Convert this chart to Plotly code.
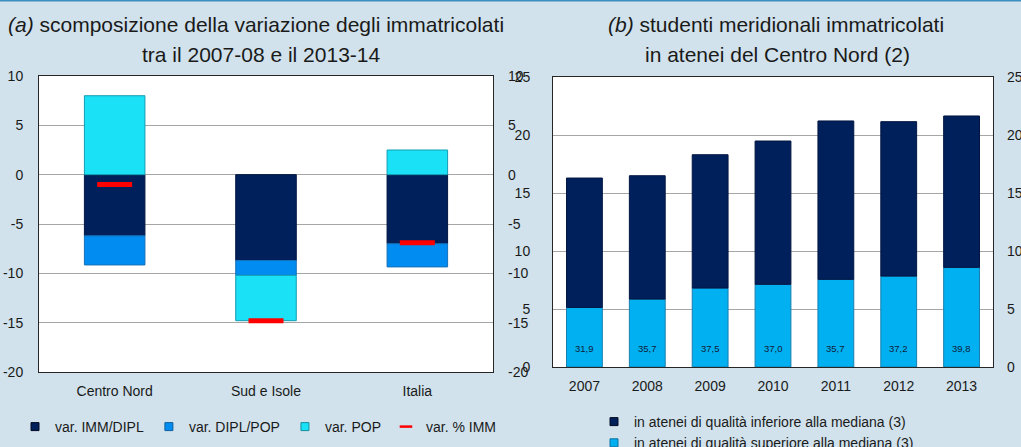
import plotly.graph_objects as go

W, H = 1021, 447

# ---- Panel (a): decomposition of the change in enrolments ----
regions = ["Centro Nord", "Sud e Isole", "Italia"]
imm_dipl = [-6.2, -8.7, -7.0]
dipl_pop = [-2.95, -1.5, -2.35]
pop_var = [8.0, -4.6, 2.5]
var_imm = [-1.0, -14.8, -6.9]

# ---- Panel (b): southern students enrolled in Centre-North universities ----
years = ["2007", "2008", "2009", "2010", "2011", "2012", "2013"]
inferiore = [11.15, 10.63, 11.49, 12.35, 13.65, 13.31, 13.05]
superiore = [5.14, 5.86, 6.81, 7.13, 7.56, 7.84, 8.59]
quota_sup = ["31,9", "35,7", "37,5", "37,0", "35,7", "37,2", "39,8"]

left_ticks = [-20, -15, -10, -5, 0, 5, 10]
right_ticks = [0, 5, 10, 15, 20, 25]
left_tick_text = [str(v) for v in left_ticks]
right_tick_text = [str(v) for v in right_ticks]

NAVY = "#00205B"
BLUE = "#008CF0"
CYAN = "#1AE1F5"
LIGHT = "#00B0F0"
RED = "#FF0000"
BG = "#D1E2EC"
FONT = "Liberation Sans, Arial, sans-serif"


def px_x(p):
    return p / W


def px_y(p):
    return (H - p) / H


fig = go.Figure()

# Panel (a) bars
fig.add_trace(go.Bar(x=regions, y=imm_dipl, width=0.4, xaxis="x", yaxis="y",
                     marker=dict(color=NAVY, line=dict(color="#001540", width=1)),
                     showlegend=False, hoverinfo="skip"))
fig.add_trace(go.Bar(x=regions, y=dipl_pop, width=0.4, xaxis="x", yaxis="y",
                     marker=dict(color=BLUE, line=dict(color="#1670B8", width=1)),
                     showlegend=False, hoverinfo="skip"))
fig.add_trace(go.Bar(x=regions, y=pop_var, width=0.4, xaxis="x", yaxis="y",
                     marker=dict(color=CYAN, line=dict(color="#139DB3", width=1)),
                     showlegend=False, hoverinfo="skip"))
fig.add_trace(go.Scatter(x=regions, y=var_imm, mode="markers", xaxis="x", yaxis="y",
                         marker=dict(symbol="line-ew", size=25, color=RED,
                                     line=dict(color=RED, width=5)),
                         showlegend=False, hoverinfo="skip"))
# invisible trace so the right-hand axis of panel (a) is drawn
fig.add_trace(go.Scatter(x=regions, y=[None] * len(regions), mode="markers",
                         xaxis="x", yaxis="y2", showlegend=False, hoverinfo="skip"))

# Panel (b) bars
fig.add_trace(go.Bar(x=years, y=superiore, width=0.57, xaxis="x2", yaxis="y3",
                     marker=dict(color=LIGHT, line=dict(color="#1A7FAF", width=1)),
                     showlegend=False, hoverinfo="skip"))
fig.add_trace(go.Bar(x=years, y=inferiore, width=0.57, xaxis="x2", yaxis="y3",
                     marker=dict(color=NAVY, line=dict(color="#001540", width=1)),
                     showlegend=False, hoverinfo="skip"))
fig.add_trace(go.Scatter(x=years, y=[None] * len(years), mode="markers",
                         xaxis="x2", yaxis="y4", showlegend=False, hoverinfo="skip"))


# Legend entries (legend-only)
def leg_sq(name, color, edge, legend):
    fig.add_trace(go.Scatter(x=[None], y=[None], mode="markers", name=name,
                             xaxis="x", yaxis="y", legend=legend,
                             marker=dict(symbol="square", size=8, color=color,
                                         line=dict(color=edge, width=1))))


leg_sq("var. IMM/DIPL", NAVY, "#000A20", "legend")
leg_sq("var. DIPL/POP", BLUE, "#1060A0", "legend")
leg_sq("var. POP", CYAN, "#128FA3", "legend")
fig.add_trace(go.Scatter(x=[None], y=[None], mode="markers", name="var. % IMM",
                         xaxis="x", yaxis="y", legend="legend",
                         marker=dict(symbol="line-ew", size=9, color=RED,
                                     line=dict(color=RED, width=2.5))))
leg_sq("in atenei di qualità inferiore alla mediana (3)", NAVY, "#000A20", "legend2")
leg_sq("in atenei di qualità superiore alla mediana (3)", LIGHT, "#1070A0", "legend2")

# Percentage labels inside light bars
for i, lab in enumerate(quota_sup):
    fig.add_annotation(x=i, y=0, xref="x2", yref="y3", text=lab, showarrow=False,
                       yanchor="middle", yshift=19,
                       font=dict(family=FONT, size=9.5, color="#10203A"))

# Titles (one annotation per line)
title_font = dict(family=FONT, size=21, color="#1a1a1a")
for txt, xc, yc in [
    ("<i>(a)</i> scomposizione della variazione degli immatricolati", 256, 25),
    ("tra il 2007-08 e il 2013-14", 261, 54),
    ("<i>(b)</i> studenti meridionali immatricolati", 776, 25),
    ("in atenei del Centro Nord (2)", 777, 54),
]:
    fig.add_annotation(x=px_x(xc), y=px_y(yc), xref="paper", yref="paper",
                       xanchor="center", yanchor="middle", showarrow=False,
                       text=txt, font=title_font)

tickfont = dict(family=FONT, size=14, color="#1a1a1a")
axline = "#262626"
grid = "#A6A6A6"

fig.update_layout(
    width=W, height=H,
    margin=dict(l=0, r=0, t=0, b=0, autoexpand=False),
    paper_bgcolor=BG, plot_bgcolor="white",
    barmode="relative",
    font=dict(family=FONT, size=14, color="#1a1a1a"),
    xaxis=dict(domain=[px_x(39), px_x(493)], anchor="y", type="category",
               range=[-0.5, 2.5], showgrid=False, showline=True, linecolor=axline,
               mirror=True, ticks="", tickfont=tickfont, ticklabelstandoff=6,
               automargin=False),
    yaxis=dict(domain=[px_y(372), px_y(76)], anchor="x", range=[-20, 10],
               tickvals=left_ticks, ticktext=left_tick_text,
               showgrid=True, gridcolor=grid, gridwidth=1,
               zeroline=False, showline=True, linecolor=axline, mirror=True,
               ticks="", tickfont=tickfont, ticklabelstandoff=12, automargin=False),
    yaxis2=dict(overlaying="y", anchor="x", side="right", range=[-20, 10],
                tickvals=left_ticks, ticktext=left_tick_text,
                showgrid=False, zeroline=False, showline=False,
                ticks="", tickfont=tickfont, ticklabelstandoff=14, automargin=False),
    xaxis2=dict(domain=[px_x(553), px_x(993)], anchor="y3", type="category",
                range=[-0.5, 6.5], showgrid=False, showline=True, linecolor=axline,
                mirror=True, ticks="", tickfont=tickfont, ticklabelstandoff=6,
                automargin=False),
    yaxis3=dict(domain=[px_y(367), px_y(77)], anchor="x2", range=[0, 25],
                tickvals=right_ticks, ticktext=right_tick_text,
                showgrid=True, gridcolor=grid, gridwidth=1,
                zeroline=False, showline=True, linecolor=axline, mirror=True,
                ticks="", tickfont=tickfont, ticklabelstandoff=19, automargin=False),
    yaxis4=dict(overlaying="y3", anchor="x2", side="right", range=[0, 25],
                tickvals=right_ticks, ticktext=right_tick_text,
                showgrid=False, zeroline=False, showline=False,
                ticks="", tickfont=tickfont, ticklabelstandoff=13, automargin=False),
    legend=dict(orientation="h", x=px_x(15), y=px_y(427), xanchor="left",
                yanchor="middle", bgcolor="rgba(0,0,0,0)",
                font=dict(family=FONT, size=14, color="#1a1a1a"), traceorder="normal"),
    legend2=dict(orientation="v", x=px_x(594), y=px_y(432.5), xanchor="left",
                 yanchor="middle", bgcolor="rgba(0,0,0,0)", tracegroupgap=0,
                 font=dict(family=FONT, size=14, color="#1a1a1a"), traceorder="normal"),
    shapes=[dict(type="line", xref="paper", yref="paper", x0=0, x1=1,
                 y0=px_y(0.5), y1=px_y(0.5), line=dict(color="#3F8CC0", width=2))],
)

fig.write_html("out.html", config={"displayModeBar": False},
               post_script="document.body.style.margin='0';document.body.style.overflow='hidden';")
